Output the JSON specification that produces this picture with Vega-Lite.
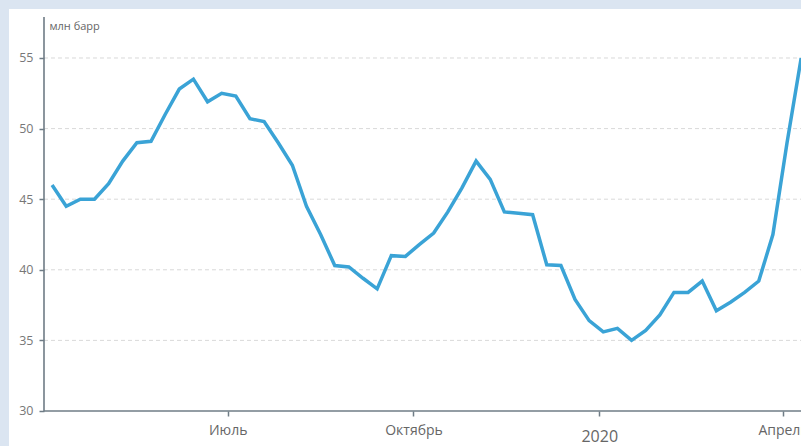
{
  "$schema": "https://vega.github.io/schema/vega-lite/v6.json",
  "width": 792,
  "height": 437,
  "autosize": {"type": "none"},
  "padding": {"left": 9, "top": 9, "right": 0, "bottom": 0},
  "background": "#dbe5f1",
  "config": {"view": {"fill": "white", "stroke": null}, "font": "Open Sans"},
  "layer": [
    {
      "data": {"values": [{"v": 35}, {"v": 40}, {"v": 45}, {"v": 50}, {"v": 55}]},
      "mark": {"type": "rule", "color": "#d9d9d9", "strokeWidth": 1, "strokeDash": [4, 3]},
      "encoding": {
        "y": {
          "field": "v", "type": "quantitative",
          "scale": {"domain": [27.52, 58.47], "nice": false, "zero": false},
          "axis": {
            "orient": "left", "offset": -35, "domain": false, "grid": false,
            "values": [30, 35, 40, 45, 50, 55],
            "tickSize": 5, "tickColor": "#6f7c86", "tickWidth": 1.5,
            "labelColor": "#777777", "labelFontSize": 12.5, "labelPadding": 6,
            "title": "млн барр", "titleAngle": 0, "titleAlign": "left", "titleBaseline": "middle",
            "titleX": 5, "titleY": 17, "titleFontSize": 11, "titleFontWeight": "normal", "titleColor": "#666666"
          }
        },
        "x": {
          "datum": {"year": 2019, "month": 4, "date": 1, "utc": true}, "type": "temporal",
          "scale": {"type": "utc", "nice": false, "domain": [{"year": 2019, "month": 3, "date": 14, "hours": 16, "utc": true}, {"year": 2020, "month": 4, "date": 9, "hours": 22, "utc": true}]},
          "axis": {
            "orient": "bottom", "offset": -35, "domain": false, "grid": false, "title": null,
            "values": [{"year": 2019, "month": 7, "date": 1, "utc": true}, {"year": 2019, "month": 10, "date": 1, "utc": true}, {"year": 2020, "month": 1, "date": 1, "utc": true}, {"year": 2020, "month": 4, "date": 1, "utc": true}],
            "labelExpr": "utcmonth(datum.value) == 0 ? '' + utcyear(datum.value) : (utcmonth(datum.value) == 6 ? 'Июль' : (utcmonth(datum.value) == 9 ? 'Октябрь' : 'Апрель'))",
            "tickSize": 5, "tickColor": "#6f7c86", "tickWidth": 1.5,
            "labelColor": "#666666",
            "labelFontSize": {"condition": {"test": "utcmonth(datum.value) == 0", "value": 16}, "value": 14},
            "labelPadding": {"condition": {"test": "utcmonth(datum.value) == 0", "value": 12}, "value": 7},
            "labelFlush": false, "labelOverlap": false, "labelBound": false
          }
        },
        "x2": {"datum": {"year": 2020, "month": 4, "date": 12, "utc": true}}
      }
    },
    {
      "data": {"values": [{"k": "y"}]},
      "mark": {"type": "rule", "color": "#6f7c86", "strokeWidth": 1.6},
      "encoding": {
        "x": {"datum": {"year": 2019, "month": 4, "date": 1, "utc": true}, "type": "temporal"},
        "y": {"datum": 30, "type": "quantitative"},
        "y2": {"datum": 57.9}
      }
    },
    {
      "data": {"values": [{"k": "x"}]},
      "mark": {"type": "rule", "color": "#6f7c86", "strokeWidth": 1.6},
      "encoding": {
        "x": {"datum": {"year": 2019, "month": 4, "date": 1, "utc": true}, "type": "temporal"},
        "x2": {"datum": {"year": 2020, "month": 4, "date": 12, "utc": true}},
        "y": {"datum": 30, "type": "quantitative"}
      }
    },
    {
      "data": {"values": [
        {"date": "2019-04-05", "value": 46.0},
        {"date": "2019-04-12", "value": 44.5},
        {"date": "2019-04-19", "value": 45.0},
        {"date": "2019-04-26", "value": 45.0},
        {"date": "2019-05-03", "value": 46.1},
        {"date": "2019-05-10", "value": 47.7},
        {"date": "2019-05-17", "value": 49.0},
        {"date": "2019-05-24", "value": 49.1},
        {"date": "2019-05-31", "value": 51.0},
        {"date": "2019-06-07", "value": 52.8},
        {"date": "2019-06-14", "value": 53.5},
        {"date": "2019-06-21", "value": 51.9},
        {"date": "2019-06-28", "value": 52.5},
        {"date": "2019-07-05", "value": 52.3},
        {"date": "2019-07-12", "value": 50.7},
        {"date": "2019-07-19", "value": 50.5},
        {"date": "2019-07-26", "value": 49.0},
        {"date": "2019-08-02", "value": 47.4},
        {"date": "2019-08-09", "value": 44.5},
        {"date": "2019-08-16", "value": 42.5},
        {"date": "2019-08-23", "value": 40.3},
        {"date": "2019-08-30", "value": 40.2},
        {"date": "2019-09-06", "value": 39.4},
        {"date": "2019-09-13", "value": 38.65},
        {"date": "2019-09-20", "value": 41.0},
        {"date": "2019-09-27", "value": 40.95},
        {"date": "2019-10-04", "value": 41.8},
        {"date": "2019-10-11", "value": 42.6},
        {"date": "2019-10-18", "value": 44.1},
        {"date": "2019-10-25", "value": 45.8},
        {"date": "2019-11-01", "value": 47.7},
        {"date": "2019-11-08", "value": 46.4},
        {"date": "2019-11-15", "value": 44.1},
        {"date": "2019-11-22", "value": 44.0},
        {"date": "2019-11-29", "value": 43.9},
        {"date": "2019-12-06", "value": 40.35},
        {"date": "2019-12-13", "value": 40.3},
        {"date": "2019-12-20", "value": 37.9},
        {"date": "2019-12-27", "value": 36.4},
        {"date": "2020-01-03", "value": 35.6},
        {"date": "2020-01-10", "value": 35.85},
        {"date": "2020-01-17", "value": 35.0},
        {"date": "2020-01-24", "value": 35.7},
        {"date": "2020-01-31", "value": 36.8},
        {"date": "2020-02-07", "value": 38.4},
        {"date": "2020-02-14", "value": 38.4},
        {"date": "2020-02-21", "value": 39.2},
        {"date": "2020-02-28", "value": 37.1},
        {"date": "2020-03-06", "value": 37.7},
        {"date": "2020-03-13", "value": 38.4},
        {"date": "2020-03-20", "value": 39.2},
        {"date": "2020-03-27", "value": 42.5},
        {"date": "2020-04-03", "value": 49.0},
        {"date": "2020-04-10", "value": 55.0}
      ]},
      "mark": {"type": "line", "color": "#3aa3d6", "strokeWidth": 3.5, "clip": true},
      "encoding": {
        "x": {"field": "date", "type": "temporal"},
        "y": {"field": "value", "type": "quantitative"}
      }
    }
  ]
}
